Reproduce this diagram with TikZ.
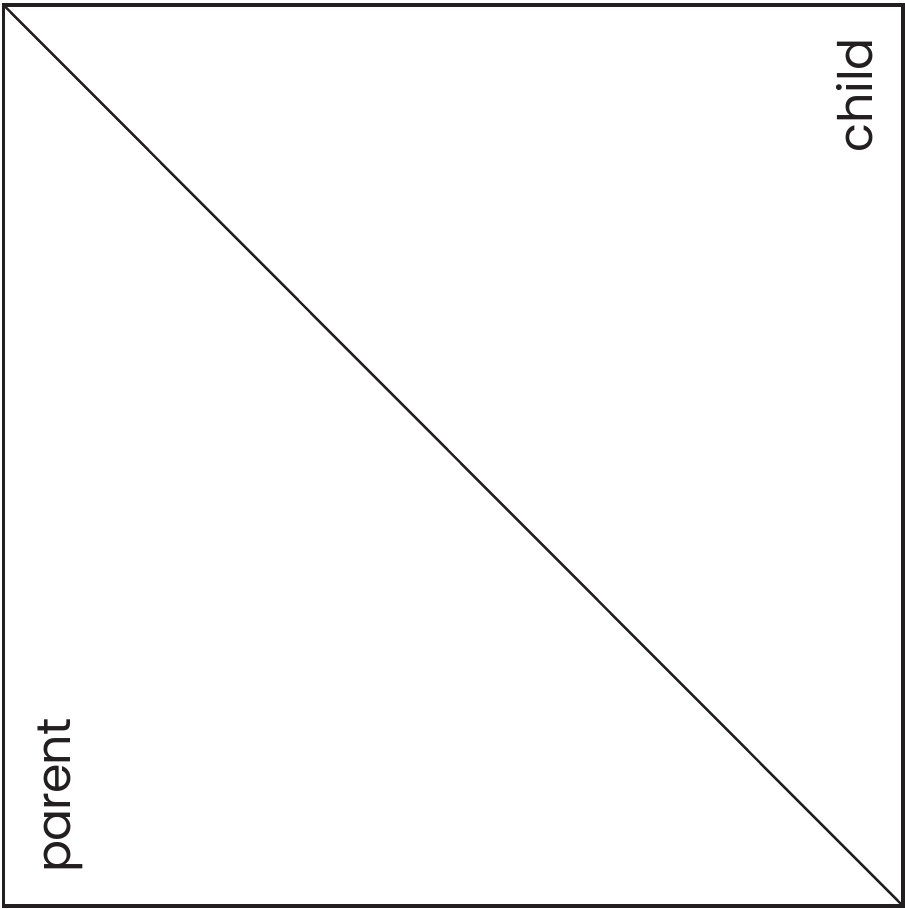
\documentclass[tikz,border=0pt]{standalone}
\usepackage{fontspec}
\setmainfont{Poppins}
\usetikzlibrary{positioning}
\definecolor{LineCol}{HTML}{231F20}

\begin{document}
\begin{tikzpicture}[x=0.02cm, y=-0.02cm,
  every node/.style={font=\fontsize{27}{30}\selectfont, text=LineCol, inner sep=0pt},
  frameline/.style={draw=LineCol, line width=1.9pt},
  diagline/.style={draw=LineCol, line width=1.4pt}]
  \useasboundingbox (0,0) rectangle (904,909);
  % square frame
  \coordinate (tl) at (3.5,5);
  \coordinate (br) at (903,906);
  \draw[frameline] (tl) rectangle (br);
  % diagonal
  \draw[diagline] (tl) -- (br);
  % labels
  \node[rotate=90, anchor=base west] (child) at (872,153) {child};
  \node[rotate=90, anchor=base west] (parent) at (70,873) {\addfontfeature{LetterSpace=-2}parent};
\end{tikzpicture}
\end{document}
